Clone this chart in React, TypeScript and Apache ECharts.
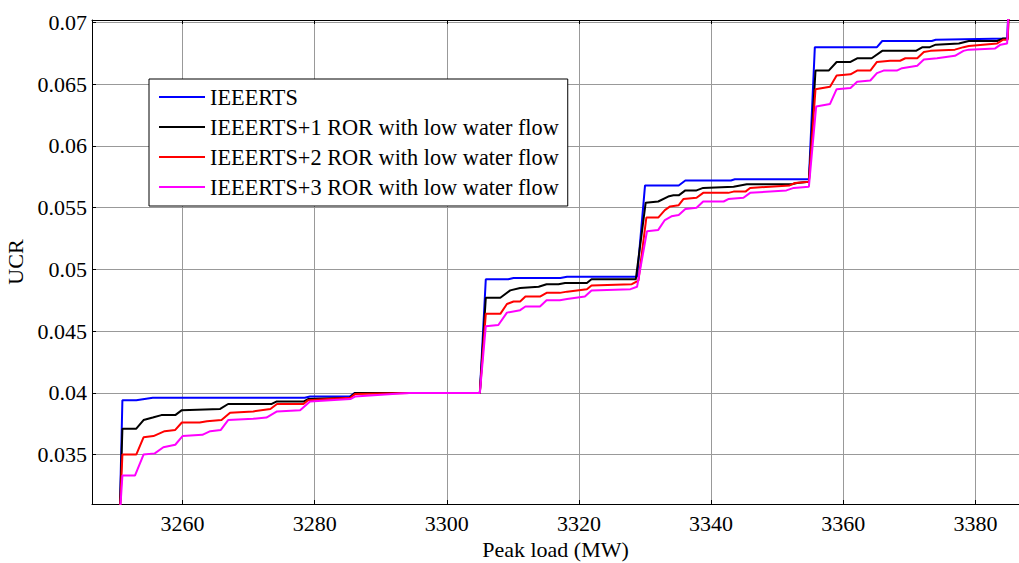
import React, { useEffect, useRef } from "react";
import * as echarts from "echarts";

const seriesNames = [
  "IEEERTS",
  "IEEERTS+1 ROR with low water flow",
  "IEEERTS+2 ROR with low water flow",
  "IEEERTS+3 ROR with low water flow",
];
const seriesColors = ["#0000ff", "#000000", "#ff0000", "#ff00ff"];

const xTicks = [3260, 3280, 3300, 3320, 3340, 3360, 3380];
const yTicks = [0.035, 0.04, 0.045, 0.05, 0.055, 0.06, 0.065, 0.07];

const ieeerts: [number, number][] = [
  [3250.5, 0.03], [3250.9, 0.0394], [3253.0, 0.0394], [3255.5, 0.0396], [3278.5, 0.0396],
  [3279.3, 0.0397], [3285.3, 0.0397], [3286.1, 0.04], [3305.0, 0.04],
  [3305.9, 0.0492], [3309.3, 0.0492], [3310.1, 0.0493], [3317.2, 0.0493], [3318.2, 0.0494], [3328.8, 0.0494],
  [3330.0, 0.0568], [3335.1, 0.0568], [3336.1, 0.0572], [3343.0, 0.0572], [3343.6, 0.0573], [3354.8, 0.0573],
  [3355.7, 0.068], [3365.1, 0.068], [3365.9, 0.0685], [3373.4, 0.0685], [3374.0, 0.0686], [3384.8, 0.0687],
  [3385.1, 0.072],
];

const ror1: [number, number][] = [
  [3250.5, 0.03], [3250.9, 0.0371], [3253.0, 0.0371], [3254.1, 0.0378], [3255.5, 0.038], [3256.8, 0.0382],
  [3258.9, 0.0382], [3259.9, 0.0386], [3265.7, 0.0387], [3266.9, 0.0391], [3273.5, 0.0391], [3274.2, 0.0393],
  [3278.3, 0.0393], [3279.0, 0.0395], [3285.3, 0.0396], [3286.1, 0.04], [3305.0, 0.04],
  [3305.9, 0.0477], [3308.1, 0.0477], [3309.6, 0.0483], [3311.1, 0.0485], [3313.9, 0.0486], [3315.1, 0.0488],
  [3316.9, 0.0488], [3317.9, 0.0489], [3321.2, 0.0489], [3321.9, 0.0492], [3328.6, 0.0492],
  [3330.1, 0.0554], [3332.0, 0.0555], [3333.5, 0.0559], [3334.3, 0.056], [3335.1, 0.056], [3336.1, 0.0564],
  [3337.8, 0.0564], [3338.8, 0.0566], [3343.4, 0.0567], [3345.4, 0.0569], [3352.2, 0.0569], [3353.0, 0.057],
  [3354.8, 0.0571],
  [3355.8, 0.0661], [3357.8, 0.0661], [3359.0, 0.0668], [3361.1, 0.0668], [3362.1, 0.0671], [3364.3, 0.0671],
  [3365.9, 0.0677], [3371.0, 0.0677], [3372.0, 0.068], [3373.1, 0.068], [3374.0, 0.0682], [3377.5, 0.0683],
  [3379.0, 0.0685], [3383.3, 0.0685], [3384.2, 0.0687], [3384.9, 0.0687], [3385.1, 0.072],
];

const ror2: [number, number][] = [
  [3250.5, 0.03], [3250.9, 0.035], [3253.0, 0.035], [3254.1, 0.0364], [3255.6, 0.0365], [3257.3, 0.0369],
  [3258.9, 0.037], [3259.9, 0.0376], [3262.6, 0.0376], [3263.7, 0.0377], [3265.9, 0.0378], [3267.2, 0.0384],
  [3270.7, 0.0385], [3273.3, 0.0387], [3274.3, 0.0391], [3278.3, 0.0391], [3279.0, 0.0394], [3285.4, 0.0396],
  [3286.1, 0.0399], [3294.4, 0.04], [3305.0, 0.04],
  [3305.9, 0.0464], [3308.1, 0.0464], [3309.1, 0.0472], [3310.1, 0.0474], [3311.1, 0.0474], [3311.9, 0.0478],
  [3314.1, 0.0478], [3315.1, 0.0481], [3317.1, 0.0481], [3318.2, 0.0482], [3321.2, 0.0484], [3321.9, 0.0487],
  [3328.0, 0.0488], [3329.0, 0.0491],
  [3330.2, 0.0542], [3332.0, 0.0542], [3333.0, 0.0548], [3333.8, 0.0551], [3335.1, 0.0552], [3335.8, 0.0557],
  [3337.8, 0.0558], [3338.8, 0.0562], [3342.6, 0.0562], [3343.4, 0.0563], [3345.2, 0.0563], [3345.9, 0.0566],
  [3351.9, 0.0568], [3352.7, 0.057], [3354.8, 0.0571],
  [3355.8, 0.0646], [3358.0, 0.0648], [3359.0, 0.0657], [3361.1, 0.0658], [3362.1, 0.0661], [3364.1, 0.0661],
  [3365.1, 0.0668], [3367.1, 0.0669], [3368.6, 0.0669], [3369.4, 0.0671], [3371.2, 0.0671], [3372.2, 0.0676],
  [3373.2, 0.0677], [3376.9, 0.0678], [3378.2, 0.068], [3379.0, 0.0681], [3383.3, 0.0683], [3384.2, 0.0686],
  [3384.9, 0.0686], [3385.1, 0.072],
];

const ror3: [number, number][] = [
  [3250.5, 0.03], [3250.9, 0.0333], [3252.8, 0.0333], [3254.1, 0.035], [3255.8, 0.0351], [3257.1, 0.0356],
  [3258.9, 0.0358], [3260.0, 0.0365], [3263.0, 0.0366], [3264.2, 0.0369], [3265.8, 0.037], [3266.9, 0.0378],
  [3270.7, 0.0379], [3272.7, 0.038], [3274.3, 0.0385], [3277.8, 0.0386], [3279.3, 0.0393], [3285.4, 0.0395],
  [3286.1, 0.0397], [3292.9, 0.03995], [3294.4, 0.04], [3305.0, 0.04],
  [3305.9, 0.0454], [3307.8, 0.0455], [3309.1, 0.0465], [3311.1, 0.0467], [3311.9, 0.047], [3314.1, 0.047],
  [3315.1, 0.0475], [3317.1, 0.0475], [3318.2, 0.0476], [3320.9, 0.0478], [3321.9, 0.0483], [3327.8, 0.0484],
  [3328.8, 0.0486],
  [3330.3, 0.0531], [3332.0, 0.0532], [3333.0, 0.054], [3334.0, 0.0543], [3335.1, 0.0544], [3336.1, 0.0549],
  [3337.8, 0.055], [3338.8, 0.0555], [3341.9, 0.0555], [3342.6, 0.0557], [3344.9, 0.0558], [3345.9, 0.0562],
  [3351.4, 0.0564], [3352.5, 0.0566], [3354.8, 0.0567],
  [3355.9, 0.0632], [3358.0, 0.0634], [3359.0, 0.0646], [3361.1, 0.0647], [3362.1, 0.0652], [3364.1, 0.0653],
  [3365.1, 0.0659], [3366.1, 0.0661], [3368.1, 0.0661], [3368.9, 0.0663], [3371.2, 0.0665], [3372.2, 0.067],
  [3374.2, 0.0671], [3376.9, 0.0673], [3378.2, 0.0677], [3379.0, 0.0678], [3383.0, 0.0679], [3383.8, 0.0682],
  [3384.8, 0.0683], [3385.1, 0.072],
];

const seriesData = [ieeerts, ror1, ror2, ror3];

const FONT = "Liberation Serif";
const X_MIN = 3246.3;
const X_MAX = 3386.6;
const Y_MIN = 0.031;
const Y_MAX = 0.0702;

export default function App() {
  const ref = useRef<HTMLDivElement>(null);
  useEffect(() => {
    document.body.style.margin = "0";
    const chart = echarts.init(ref.current!, null, { renderer: "svg" });
    const axisText = { color: "#000", fontFamily: FONT, fontSize: 22 };
    chart.setOption({
      animation: false,
      backgroundColor: "#fff",
      textStyle: { fontFamily: FONT },
      grid: { left: 92, right: 0, top: 20, bottom: 59, containLabel: false, outerBoundsMode: "none" },
      legend: {
        orient: "vertical",
        left: 149,
        top: 79,
        padding: [7, 9, 8, 10],
        itemGap: 8,
        itemWidth: 46,
        itemHeight: 2,
        icon: "rect",
        backgroundColor: "#fff",
        borderColor: "#000",
        borderWidth: 1,
        borderRadius: 0,
        textStyle: { color: "#000", fontFamily: FONT, fontSize: 22.3, lineHeight: 22 },
        data: seriesNames,
      },
      xAxis: [
        {
          type: "value",
          min: X_MIN,
          max: X_MAX,
          position: "bottom",
          name: "Peak load (MW)",
          nameLocation: "middle",
          nameGap: 32,
          nameTextStyle: axisText,
          axisLine: { show: true, onZero: false, lineStyle: { color: "#000", width: 1 } },
          axisTick: { show: true, inside: true, length: 4, customValues: xTicks, lineStyle: { color: "#000" } },
          axisLabel: { ...axisText, margin: 8, customValues: xTicks, formatter: (v: number) => String(v) },
          splitLine: { show: true, lineStyle: { color: "#999999", width: 1 } },
        },
        {
          type: "value",
          min: X_MIN,
          max: X_MAX,
          position: "top",
          axisLine: { show: true, onZero: false, lineStyle: { color: "#000", width: 1 } },
          axisTick: { show: true, inside: true, length: 4, customValues: xTicks, lineStyle: { color: "#000" } },
          axisLabel: { show: false },
          splitLine: { show: false },
        },
      ],
      yAxis: [
        {
          type: "value",
          min: Y_MIN,
          max: Y_MAX,
          position: "left",
          name: "UCR",
          nameLocation: "middle",
          nameGap: 58,
          nameRotate: 90,
          nameTextStyle: axisText,
          axisLine: { show: true, onZero: false, lineStyle: { color: "#000", width: 1 } },
          axisTick: { show: true, inside: true, length: 4, customValues: yTicks, lineStyle: { color: "#000" } },
          axisLabel: { ...axisText, margin: 5, customValues: yTicks, formatter: (v: number) => String(v) },
          splitLine: { show: true, lineStyle: { color: "#999999", width: 1 } },
        },
      ],
      series: seriesNames.map((name, i) => ({
        name,
        type: "line",
        xAxisIndex: 0,
        yAxisIndex: 0,
        data: seriesData[i],
        symbol: "none",
        showSymbol: false,
        clip: true,
        color: seriesColors[i],
        lineStyle: { color: seriesColors[i], width: 2 },
        emphasis: { disabled: true },
      })),
    });
    return () => chart.dispose();
  }, []);
  return <div ref={ref} style={{ width: 1019, height: 563 }} />;
}
